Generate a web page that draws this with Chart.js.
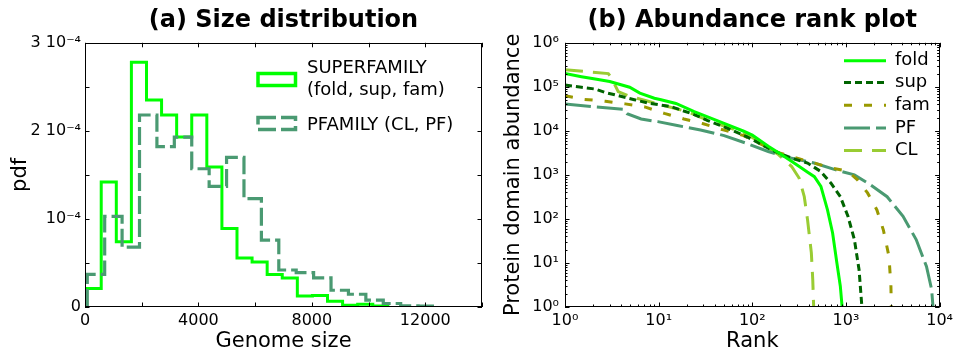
<!DOCTYPE html>
<html>
<head>
<meta charset="utf-8">
<script src="https://cdn.jsdelivr.net/npm/chart.js@4.4.1/dist/chart.umd.min.js"></script>
<style>
  html, body { margin: 0; padding: 0; background: #fff; }
  #wrap { position: relative; width: 957px; height: 352px; }
  .box { position: absolute; top: 0; height: 352px; }
  #boxA { left: 0; width: 490px; }
  #boxB { left: 490px; width: 467px; }
</style>
</head>
<body>
<div id="wrap">
  <div class="box" id="boxA"><canvas id="sizeChart" width="490" height="352"></canvas></div>
  <div class="box" id="boxB"><canvas id="rankChart" width="467" height="352"></canvas></div>
</div>
<script>
// (a) genome size histograms: bin edges and pdf per bin
const superEdges = [40, 572, 1104, 1636, 2168, 2700, 3232, 3764, 4296, 4828, 5360,
                    5892, 6424, 6956, 7488, 8020, 8552, 9084, 9616, 10148, 10680];
const superPdf = [0.21e-4, 1.42e-4, 0.74e-4, 2.78e-4, 2.35e-4, 2.18e-4, 1.93e-4, 2.18e-4, 1.59e-4, 0.89e-4,
                  0.555e-4, 0.51e-4, 0.37e-4, 0.33e-4, 0.125e-4, 0.13e-4, 0.065e-4, 0.02e-4, 0.03e-4, 0.01e-4];
const pfEdges = [80, 694, 1308, 1922, 2536, 3150, 3764, 4378, 4992, 5606, 6220,
                 6834, 7448, 8062, 8676, 9290, 9904, 10518, 11132, 11746, 12360];
const pfPdf = [0.37e-4, 1.03e-4, 0.68e-4, 2.18e-4, 1.82e-4, 1.93e-4, 1.57e-4, 1.37e-4, 1.70e-4, 1.23e-4,
               0.76e-4, 0.42e-4, 0.39e-4, 0.33e-4, 0.19e-4, 0.145e-4, 0.077e-4, 0.04e-4, 0.012e-4, 0.01e-4];
const sizeLegendLines = [['SUPERFAMILY', '(fold, sup, fam)'], ['PFAMILY (CL, PF)']];

const sizeTicks = [0, 2000, 4000, 6000, 8000, 10000, 12000, 14000];
const sizeTickLabels = ['0', '', '4000', '', '8000', '', '12000', ''];
const pdfTicks = [0, 0.5e-4, 1e-4, 1.5e-4, 2e-4, 2.5e-4, 3e-4];
const pdfTickLabels = ['0', '', '10⁻⁴', '', '2 10⁻⁴', '', '3 10⁻⁴'];

// (b) abundance rank curves
const foldRank = [1, 1.5, 2.1, 3, 4.9, 6.3, 9, 10.6, 15.3, 24, 36, 54, 81, 100, 148, 204, 262, 332, 390, 460, 540, 635, 720, 800, 870, 910];
const foldAbund = [2.0e5, 1.7e5, 1.5e5, 1.32e5, 9.8e4, 7.2e4, 5.5e4, 5.1e4, 4.2e4, 2.75e4, 1.95e4, 1.38e4, 9.8e3, 8.0e3, 4.5e3, 2.9e3, 2.05e3, 1.45e3, 1.15e3, 910, 550, 160, 48, 10, 3, 1];
const supRank = [1, 1.5, 2.1, 2.7, 3.4, 5.5, 7.7, 13.5, 24, 33, 54, 87, 174, 263, 389, 537, 692, 871, 1050, 1230, 1380, 1480];
const supAbund = [1.1e5, 9.8e4, 8.9e4, 7.4e4, 6.6e4, 5.1e4, 4.3e4, 3.55e4, 2.35e4, 1.74e4, 1.15e4, 7.4e3, 3.4e3, 2.4e3, 1.86e3, 1.2e3, 650, 320, 115, 34, 7, 1];
const famRank = [1, 1.6, 2.7, 4.4, 7.1, 11.5, 18.6, 30, 49, 81, 107, 191, 389, 692, 1050, 1320, 1700, 2140, 2510, 2880, 3020, 3050];
const famAbund = [6.3e4, 5.2e4, 4.7e4, 4.1e4, 3.5e4, 2.5e4, 1.86e4, 1.45e4, 1.05e4, 7.8e3, 5.8e3, 3.2e3, 2.05e3, 1.45e3, 1.2e3, 780, 390, 160, 56, 14, 3, 1];
const pfRank = [1, 2.1, 4.2, 4.6, 6.5, 9.8, 15.8, 28, 50, 87, 148, 240, 457, 813, 1230, 1820, 2750, 4070, 5620, 7240, 8220, 8500];
const pfAbund = [4.1e4, 3.5e4, 3.1e4, 2.45e4, 1.86e4, 1.62e4, 1.32e4, 1.05e4, 7.8e3, 5.2e3, 3.4e3, 2.5e3, 1.86e3, 1.26e3, 1.0e3, 600, 320, 115, 34, 8.3, 2.5, 1];
const clRank = [1, 2.9, 3.1, 3.7, 4.7, 7.7, 9.8, 20, 36, 74, 102, 190, 263, 316, 359, 389, 427, 442, 452];
const clAbund = [2.45e5, 2.0e5, 1.66e5, 7.8e4, 6.3e4, 4.7e4, 4.1e4, 2.75e4, 1.62e4, 9.8e3, 6.9e3, 2.9e3, 1.55e3, 850, 320, 95, 17, 4.2, 1];

const decadeTicks = [1, 10, 100, 1000, 10000, 100000, 1000000];
const decadeLabels = ['10⁰', '10¹', '10²', '10³', '10⁴', '10⁵', '10⁶'];

Chart.defaults.font.family = '"DejaVu Sans", sans-serif';
Chart.defaults.color = '#000';

// step outline of a histogram; with stepped:'before' each bin is
// drawn flat at its own value up to the next edge
function stepPoints(edges, vals) {
  const pts = [{x: edges[0], y: 0}];
  vals.forEach((v, i) => pts.push({x: edges[i], y: v}));
  pts.push({x: edges[edges.length - 1], y: 0});
  return pts;
}
function xyPoints(xs, ys) {
  return xs.map((x, i) => ({x: x, y: ys[i]}));
}
// tick values for log axis: decades plus 2..9 minors
function logTicks(lo, hi) {
  const out = [];
  for (let d = lo; d <= hi; d *= 10) {
    out.push(d);
    if (d < hi) for (let m = 2; m <= 9; m++) out.push(d * m);
  }
  return out;
}

// black frame with matplotlib style inward ticks on all four sides
function framePlugin(xMajor, yMajor) {
  return {
    id: 'frame',
    afterDatasetsDraw(chart) {
      const {ctx, chartArea: a, scales} = chart;
      ctx.save();
      ctx.strokeStyle = '#000';
      ctx.lineWidth = 1;
      ctx.setLineDash([]);
      ctx.beginPath();
      scales.x.ticks.forEach(t => {
        const px = Math.round(scales.x.getPixelForValue(t.value)) + 0.5;
        const len = (!xMajor || xMajor.includes(t.value)) ? 4.5 : 2.5;
        ctx.moveTo(px, a.bottom); ctx.lineTo(px, a.bottom - len);
        ctx.moveTo(px, a.top); ctx.lineTo(px, a.top + len);
      });
      scales.y.ticks.forEach(t => {
        const py = Math.round(scales.y.getPixelForValue(t.value)) + 0.5;
        const len = (!yMajor || yMajor.includes(t.value)) ? 4.5 : 2.5;
        ctx.moveTo(a.left, py); ctx.lineTo(a.left + len, py);
        ctx.moveTo(a.right, py); ctx.lineTo(a.right - len, py);
      });
      ctx.stroke();
      ctx.strokeRect(Math.round(a.left) + 0.5, Math.round(a.top) + 0.5,
                     Math.round(a.right - a.left) - 1, Math.round(a.bottom - a.top) - 1);
      ctx.restore();
    }
  };
}

const sizeLegend = {
  id: 'sizeLegend',
  afterDraw(chart) {
    const ctx = chart.ctx;
    const ds = chart.data.datasets;
    const sup = ds[1], pf = ds[0];
    ctx.save();
    ctx.font = '18px "DejaVu Sans"';
    ctx.fillStyle = '#000';
    ctx.textBaseline = 'alphabetic';
    ctx.lineWidth = 3.5;
    ctx.strokeStyle = sup.borderColor;
    ctx.setLineDash([]);
    ctx.strokeRect(258, 73.5, 37.5, 12);
    ctx.fillText(sizeLegendLines[0][0], 307, 72.5);
    ctx.fillText(sizeLegendLines[0][1], 307, 94.5);
    ctx.strokeStyle = pf.borderColor;
    ctx.setLineDash(pf.borderDash);
    ctx.strokeRect(258, 117.5, 37.5, 12);
    ctx.fillText(sizeLegendLines[1][0], 307, 130);
    ctx.restore();
  }
};

const rankLegend = {
  id: 'rankLegend',
  afterDraw(chart) {
    const ctx = chart.ctx;
    const ys = [60.7, 82.5, 105.3, 128, 150.5];
    ctx.save();
    ctx.font = '18px "DejaVu Sans"';
    ctx.fillStyle = '#000';
    ctx.textBaseline = 'middle';
    chart.data.datasets.forEach((d, i) => {
      ctx.strokeStyle = d.borderColor;
      ctx.lineWidth = d.borderWidth;
      ctx.setLineDash(d.borderDash || []);
      ctx.beginPath();
      ctx.moveTo(354, ys[i]);
      ctx.lineTo(396, ys[i]);
      ctx.stroke();
      ctx.fillText(d.label, 405, ys[i]);
    });
    ctx.restore();
  }
};

const sizeConfig = {
  type: 'line',
  data: {
    datasets: [{
      label: sizeLegendLines[1].join(' '),
      data: stepPoints(pfEdges, pfPdf),
      stepped: 'before',
      borderColor: '#4a9a72',
      borderWidth: 3.2,
      borderDash: [18, 5],
      pointRadius: 0,
      fill: false
    }, {
      label: sizeLegendLines[0].join(' '),
      data: stepPoints(superEdges, superPdf),
      stepped: 'before',
      borderColor: '#00ff00',
      borderWidth: 3,
      pointRadius: 0,
      fill: false
    }]
  },
  options: {
    responsive: false,
    animation: false,
    events: [],
    layout: { padding: { left: 0, right: 8, top: 0, bottom: 0 } },
    plugins: {
      legend: { display: false },
      tooltip: { enabled: false },
      title: {
        display: true, text: '(a) Size distribution', fullSize: false,
        font: { size: 24, weight: 'bold' }, padding: { top: 6, bottom: 8 }
      }
    },
    scales: {
      x: {
        type: 'linear', min: 0, max: 14000,
        grid: { display: false, drawTicks: false },
        border: { display: false },
        afterBuildTicks: s => { s.ticks = sizeTicks.map(v => ({value: v})); },
        afterFit: s => { s.height = 45; },
        ticks: { autoSkip: false, maxRotation: 0, padding: 4, font: { size: 16 },
                 callback: (v, i) => sizeTickLabels[i] },
        title: { display: true, text: 'Genome size', font: { size: 21, lineHeight: 1 },
                 padding: { top: 0, bottom: 0 } }
      },
      y: {
        type: 'linear', min: 0, max: 3e-4,
        grid: { display: false, drawTicks: false },
        border: { display: false },
        afterBuildTicks: s => { s.ticks = pdfTicks.map(v => ({value: v})); },
        afterFit: s => { s.width = 85; },
        ticks: { autoSkip: false, padding: 4, font: { size: 16 },
                 callback: (v, i) => pdfTickLabels[i] },
        title: { display: true, text: 'pdf', font: { size: 21, lineHeight: 1 },
                 padding: { top: 10, bottom: 0 } }
      }
    }
  },
  plugins: [framePlugin(null, null), sizeLegend]
};

const rankConfig = {
  type: 'line',
  data: {
    datasets: [
      { label: 'fold', data: xyPoints(foldRank, foldAbund), borderColor: '#00ff00', borderWidth: 3 },
      { label: 'sup', data: xyPoints(supRank, supAbund), borderColor: '#006400', borderWidth: 3, borderDash: [7, 4] },
      { label: 'fam', data: xyPoints(famRank, famAbund), borderColor: '#999900', borderWidth: 3, borderDash: [8, 12] },
      { label: 'PF', data: xyPoints(pfRank, pfAbund), borderColor: '#4a9a72', borderWidth: 3, borderDash: [26, 6] },
      { label: 'CL', data: xyPoints(clRank, clAbund), borderColor: '#99cc33', borderWidth: 3, borderDash: [18, 10] }
    ].map(d => Object.assign({ pointRadius: 0, fill: false, tension: 0, borderCapStyle: 'butt' }, d))
  },
  options: {
    responsive: false,
    animation: false,
    events: [],
    layout: { padding: { left: 0, right: 14, top: 0, bottom: 0 } },
    plugins: {
      legend: { display: false },
      tooltip: { enabled: false },
      title: {
        display: true, text: '(b) Abundance rank plot', fullSize: false,
        font: { size: 24, weight: 'bold' }, padding: { top: 6, bottom: 8 }
      }
    },
    scales: {
      x: {
        type: 'logarithmic', min: 1, max: 10000,
        grid: { display: false, drawTicks: false },
        border: { display: false },
        afterBuildTicks: s => { s.ticks = logTicks(1, 10000).map(v => ({value: v})); },
        afterFit: s => { s.height = 45; },
        ticks: { autoSkip: false, maxRotation: 0, padding: 4, font: { size: 16 },
                 callback: v => { const k = decadeTicks.indexOf(v); return k < 0 ? '' : decadeLabels[k]; } },
        title: { display: true, text: 'Rank', font: { size: 21, lineHeight: 1 },
                 padding: { top: 0, bottom: 0 } }
      },
      y: {
        type: 'logarithmic', min: 1, max: 1000000,
        grid: { display: false, drawTicks: false },
        border: { display: false },
        afterBuildTicks: s => { s.ticks = logTicks(1, 1000000).map(v => ({value: v})); },
        afterFit: s => { s.width = 75; },
        ticks: { autoSkip: false, padding: 6, font: { size: 16 },
                 callback: v => { const k = decadeTicks.indexOf(v); return k < 0 ? '' : decadeLabels[k]; } },
        title: { display: true, text: 'Protein domain abundance', font: { size: 21, lineHeight: 1 },
                 padding: { top: 13, bottom: 0 } }
      }
    }
  },
  plugins: [framePlugin(decadeTicks, decadeTicks), rankLegend]
};

new Chart(document.getElementById('sizeChart').getContext('2d'), sizeConfig);
new Chart(document.getElementById('rankChart').getContext('2d'), rankConfig);
</script>
</body>
</html>
